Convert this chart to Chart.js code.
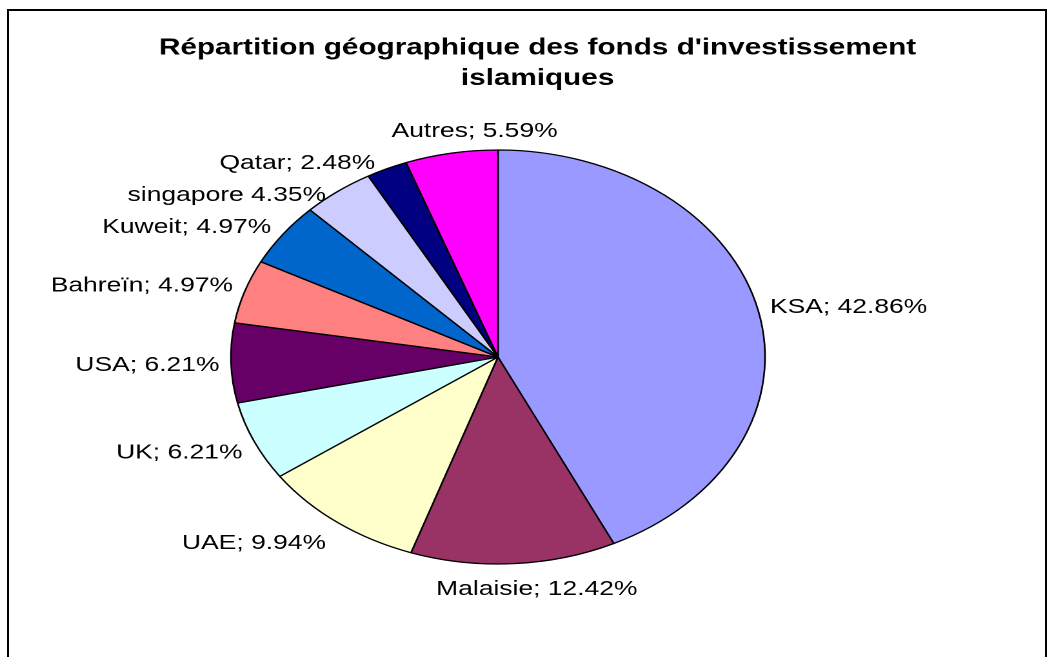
<!DOCTYPE html>
<html><head><meta charset="utf-8">
<script src="https://cdn.jsdelivr.net/npm/chart.js@4.4.1/dist/chart.umd.min.js"></script>
<style>
html,body{margin:0;padding:0;background:#fff;width:1054px;height:657px;overflow:hidden;}
#wrap{position:relative;width:1054px;height:657px;}
#c{position:absolute;left:0;top:0;}
#frame{position:absolute;left:7px;top:9px;width:1040px;height:720px;border:2px solid #000;box-sizing:border-box;pointer-events:none;}
</style></head><body>
<div id="wrap"><canvas id="c" width="817" height="657" style="width:1054px;height:657px"></canvas><div id="frame"></div></div>
<script>
const categories = ['KSA', 'Malaisie', 'UAE', 'UK', 'USA', 'Bahreïn', 'Kuweit', 'singapore', 'Qatar', 'Autres'];
const values = [42.86, 12.42, 9.94, 6.21, 6.21, 4.97, 4.97, 4.35, 2.48, 5.59];
const separators = ['; ', '; ', '; ', '; ', '; ', '; ', '; ', ' ', '; ', '; '];
const colors = ['#9999FF', '#993366', '#FFFFCC', '#CCFFFF', '#660066', '#FF8080', '#0066CC', '#CCCCFF', '#000080', '#FF00FF'];
const titleLines = ["Répartition géographique des fonds d'investissement", 'islamiques'];

const FONT = '"Liberation Sans", Arial, Helvetica, sans-serif';

const titlePlugin = {
  id: 'excelTitle',
  afterDraw(chart) {
    const ctx = chart.ctx;
    ctx.save();
    ctx.font = 'bold 23px ' + FONT;
    ctx.fillStyle = '#000';
    ctx.textAlign = 'center';
    ctx.textBaseline = 'alphabetic';
    const x = 416.7;
    titleLines.forEach((t, i) => ctx.fillText(t, x, 54.5 + i * 30.5));
    ctx.restore();
  }
};

const labelPlugin = {
  id: 'outsideLabels',
  afterDatasetsDraw(chart) {
    const ctx = chart.ctx;
    const meta = chart.getDatasetMeta(0);
    ctx.save();
    ctx.font = '20.5px ' + FONT;
    ctx.fillStyle = '#000';
    const items = meta.data.map((arc, i) => {
      const p = arc.getProps(['x', 'y', 'startAngle', 'endAngle', 'outerRadius'], true);
      const mid = (p.startAngle + p.endAngle) / 2;
      const s = Math.cos(mid), c = Math.sin(mid);
      const px = p.x + p.outerRadius * s, py = p.y + p.outerRadius * c;
      const text = categories[i] + separators[i] + values[i].toFixed(2) + '%';
      const w = ctx.measureText(text).width;
      let left;
      if (Math.abs(s) < 0.3) left = px + 18 - w / 2;
      else if (s > 0) left = px + 9;
      else left = px - 9 - w;
      return { text, left, w, vc: py + 24 * c };
    });
    const order = items.slice().sort((a, b) => a.vc - b.vc);
    const placed = [];
    for (const it of order) {
      let changed = true, guard = 0;
      while (changed && guard++ < 50) {
        changed = false;
        for (const q of placed) {
          const ox = it.left - 10 < q.left + q.w + 10 && q.left - 10 < it.left + it.w + 10;
          if (ox && it.vc - q.vc < 32) { it.vc = q.vc + 32; changed = true; }
        }
      }
      placed.push(it);
    }
    ctx.textAlign = 'left';
    ctx.textBaseline = 'alphabetic';
    items.forEach(it => ctx.fillText(it.text, it.left, it.vc + 7.4));
    ctx.restore();
  }
};

new Chart(document.getElementById('c'), {
  type: 'pie',
  data: {
    labels: categories,
    datasets: [{
      data: values,
      backgroundColor: colors,
      borderColor: '#000',
      borderWidth: 1.3,
      hoverOffset: 0
    }]
  },
  options: {
    responsive: false,
    devicePixelRatio: 2,
    animation: false,
    events: [],
    radius: 207,
    layout: { padding: { left: 175, right: 220, top: 146, bottom: 89 } },
    plugins: {
      legend: { display: false },
      tooltip: { enabled: false },
      title: { display: false }
    }
  },
  plugins: [labelPlugin, titlePlugin]
});
</script>
</body></html>
